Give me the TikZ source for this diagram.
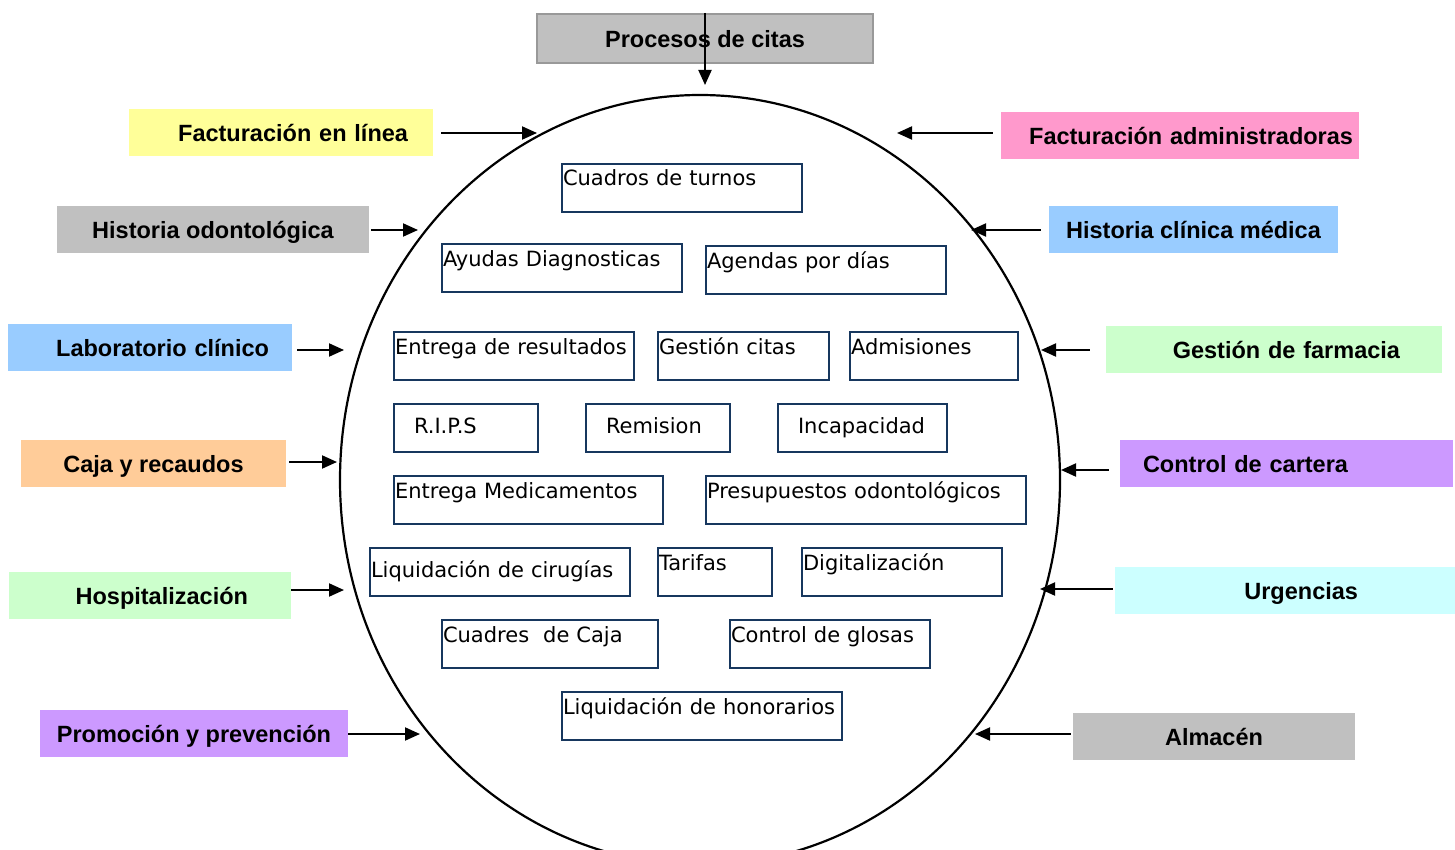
\documentclass[tikz,border=0pt]{standalone}
\usepackage{fontspec}
\usetikzlibrary{shapes.geometric,arrows.meta}
\newfontfamily\etiq{Liberation Sans}
\newfontfamily\proc{DejaVu Sans}
\definecolor{gris}{HTML}{C0C0C0}
\definecolor{amarillo}{HTML}{FFFF99}
\definecolor{azul}{HTML}{99CCFF}
\definecolor{naranja}{HTML}{FFCC99}
\definecolor{verde}{HTML}{CCFFCC}
\definecolor{lila}{HTML}{CC99FF}
\definecolor{rosa}{HTML}{FF99CC}
\definecolor{celeste}{HTML}{CCFFFF}
\definecolor{marino}{HTML}{17375E}
\begin{document}
\begin{tikzpicture}[x=1pt,y=-1pt,
					t/.style={fill=#1,minimum height=47pt,inner ysep=0pt,text height=22pt,text depth=4pt,font=\etiq\bfseries\fontsize{23.5}{28}\selectfont},
					m/.style={draw=marino,line width=2pt,anchor=north west,inner sep=1pt,align=left,text height=21pt,text depth=25pt,font=\proc\fontsize{21}{25}\selectfont},
					mc/.style={m,text height=15pt,text depth=4pt,minimum height=48pt},
					f/.style={-{Triangle[length=15pt,width=13pt]},line width=2pt}]
\useasboundingbox (0,0) rectangle (1455,850);
\clip (0,0) rectangle (1455,850);
\node[draw,ellipse,line width=2.2pt,minimum width=720pt,minimum height=770pt,inner sep=0pt] (sis) at (700,480) {};
\node[t=gris,draw=gray!80,line width=2pt,minimum width=336pt,minimum height=49pt] (pc) at (705,38.5) {Procesos de citas};
\node[t=amarillo,align=right,inner xsep=25pt,text width=254pt] (fl) at (281,133) {Facturación en línea};
\node[t=gris,minimum width=312pt] (ho) at (213,229.5) {Historia odontológica};
\node[t=azul,align=right,inner xsep=23pt,text width=238pt] (lc) at (150,347.5) {Laboratorio clínico};
\node[t=naranja,minimum width=265pt] (cr) at (153.5,463.5) {Caja y recaudos};
\node[t=verde,align=right,inner xsep=43pt,text width=196pt] (hz) at (150,595.5) {Hospitalización};
\node[t=lila,minimum width=308pt] (pp) at (194,733.5) {Promoción y prevención};
\node[t=rosa,align=right,inner xsep=6pt,text width=346pt] (fa) at (1180,135.5) {Facturación administradoras};
\node[t=azul,minimum width=289pt] (hc) at (1193.5,229.5) {Historia clínica médica};
\node[t=verde,align=right,inner xsep=42pt,text width=252pt] (gf) at (1274,349.5) {Gestión de farmacia};
\node[t=lila,align=left,inner xsep=23pt,text width=287pt] (cc) at (1286.5,463.5) {Control de cartera};
\node[t=celeste,align=right,inner xsep=97pt,text width=146pt] (ur) at (1285,590.5) {Urgencias};
\node[t=gris,minimum width=282pt] (al) at (1214,736.5) {Almacén};
\node[m,text width=238pt] (ct) at (561,163) {Cuadros de turnos};
\node[m,text width=238pt] (ad) at (441,243) {Ayudas Diagnosticas};
\node[m,text width=238pt] (ag) at (705,245) {Agendas por días};
\node[m,text width=238pt] (er) at (393,331) {Entrega de resultados};
\node[m,text width=169pt] (gc) at (657,331) {Gestión citas};
\node[m,text width=166pt] (am) at (849,331) {Admisiones};
\node[mc,inner xsep=20pt,text width=104pt] (rips) at (393,403) {R.I.P.S};
\node[mc,inner xsep=20pt,text width=104pt] (rem) at (585,403) {Remision};
\node[mc,inner xsep=20pt,text width=129pt] (inc) at (777,403) {Incapacidad};
\node[m,text width=267pt] (em) at (393,475) {Entrega Medicamentos};
\node[m,text width=318pt] (po) at (705,475) {Presupuestos odontológicos};
\node[mc,text width=258pt] (lq) at (369,547) {Liquidación de cirugías};
\node[m,text width=112pt] (tar) at (657,547) {Tarifas};
\node[m,text width=198pt] (dig) at (801,547) {Digitalización};
\node[m,text width=214pt] (cj) at (441,619) {Cuadres~ de Caja};
\node[m,text width=198pt] (cg) at (729,619) {Control de glosas};
\node[m,text width=278pt] (lh) at (561,691) {Liquidación de honorarios};
\coordinate (e0) at (705,85);
\coordinate (e1) at (537,133);
\coordinate (e2) at (418,230);
\coordinate (e3) at (344,350);
\coordinate (e4) at (337,462);
\coordinate (e5) at (344,590);
\coordinate (e6) at (420,734);
\coordinate (e7) at (897,133);
\coordinate (e8) at (971,230);
\coordinate (e9) at (1041,350);
\coordinate (e10) at (1061,470);
\coordinate (e11) at (1040,589);
\coordinate (e12) at (975,734);
\draw[f] (pc.north) -- (e0);
\draw[f,shorten <=8pt] (fl.east |- e1) -- (e1);
\draw[f,shorten <=2pt] (ho.east |- e2) -- (e2);
\draw[f,shorten <=5pt] (lc.east |- e3) -- (e3);
\draw[f,shorten <=3pt] (cr.east |- e4) -- (e4);
\draw[f] (hz.east |- e5) -- (e5);
\draw[f] (pp.east |- e6) -- (e6);
\draw[f,shorten <=8pt] (fa.west |- e7) -- (e7);
\draw[f,shorten <=8pt] (hc.west |- e8) -- (e8);
\draw[f,shorten <=16pt] (gf.west |- e9) -- (e9);
\draw[f,shorten <=11pt] (cc.west |- e10) -- (e10);
\draw[f,shorten <=2pt] (ur.west |- e11) -- (e11);
\draw[f,shorten <=2pt] (al.west |- e12) -- (e12);
\end{tikzpicture}
\end{document}
